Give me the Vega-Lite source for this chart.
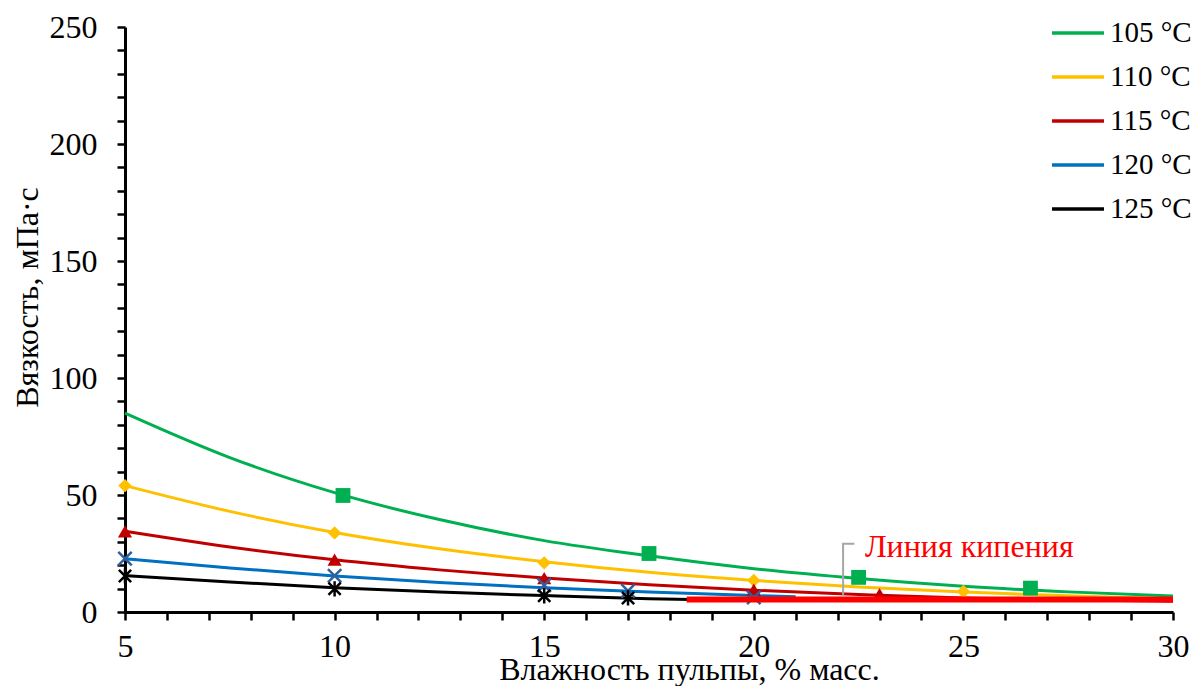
{
  "$schema": "https://vega.github.io/schema/vega-lite/v6.json",
  "width": 1048,
  "height": 585,
  "autosize": {"type": "none"},
  "padding": {"left": 125, "top": 27, "right": 23, "bottom": 74},
  "background": "white",
  "config": {
    "view": {"stroke": null}
  },
  "datasets": {
    "curves": [
      {"t": "105 °C", "x": 5, "y": 85}, {"t": "105 °C", "x": 7.5, "y": 66}, {"t": "105 °C", "x": 10, "y": 51},
      {"t": "105 °C", "x": 12.5, "y": 39.5}, {"t": "105 °C", "x": 15, "y": 30.5}, {"t": "105 °C", "x": 17.5, "y": 24},
      {"t": "105 °C", "x": 20, "y": 18.5}, {"t": "105 °C", "x": 22.5, "y": 14.3}, {"t": "105 °C", "x": 25, "y": 11},
      {"t": "105 °C", "x": 27.5, "y": 8.6}, {"t": "105 °C", "x": 30, "y": 6.8},
      {"t": "110 °C", "x": 5, "y": 54}, {"t": "110 °C", "x": 7.5, "y": 43}, {"t": "110 °C", "x": 10, "y": 34},
      {"t": "110 °C", "x": 12.5, "y": 27}, {"t": "110 °C", "x": 15, "y": 21.5}, {"t": "110 °C", "x": 17.5, "y": 17},
      {"t": "110 °C", "x": 20, "y": 13.5}, {"t": "110 °C", "x": 22.5, "y": 10.7}, {"t": "110 °C", "x": 25, "y": 8.5},
      {"t": "110 °C", "x": 27.5, "y": 6.9}, {"t": "110 °C", "x": 30, "y": 5.6},
      {"t": "115 °C", "x": 5, "y": 34.5}, {"t": "115 °C", "x": 7.5, "y": 27.8}, {"t": "115 °C", "x": 10, "y": 22.3},
      {"t": "115 °C", "x": 12.5, "y": 18}, {"t": "115 °C", "x": 15, "y": 14.5}, {"t": "115 °C", "x": 17.5, "y": 11.6},
      {"t": "115 °C", "x": 20, "y": 9.3}, {"t": "115 °C", "x": 22.5, "y": 7.5}, {"t": "115 °C", "x": 25, "y": 6},
      {"t": "115 °C", "x": 27.5, "y": 5.2}, {"t": "115 °C", "x": 30, "y": 4.6},
      {"t": "120 °C", "x": 5, "y": 22.8}, {"t": "120 °C", "x": 7.5, "y": 18.8}, {"t": "120 °C", "x": 10, "y": 15.4},
      {"t": "120 °C", "x": 12.5, "y": 12.6}, {"t": "120 °C", "x": 15, "y": 10.4}, {"t": "120 °C", "x": 17.5, "y": 8.5},
      {"t": "120 °C", "x": 20, "y": 7}, {"t": "120 °C", "x": 21, "y": 6.5},
      {"t": "125 °C", "x": 5, "y": 15.6}, {"t": "125 °C", "x": 7.5, "y": 12.8}, {"t": "125 °C", "x": 10, "y": 10.4},
      {"t": "125 °C", "x": 12.5, "y": 8.5}, {"t": "125 °C", "x": 15, "y": 7}, {"t": "125 °C", "x": 17.5, "y": 5.7},
      {"t": "125 °C", "x": 18.5, "y": 5.3}
    ],
    "points": [
      {"series": "105 °C", "x": 10.2, "y": 49.8}, {"series": "105 °C", "x": 17.5, "y": 25}, {"series": "105 °C", "x": 22.5, "y": 14.8}, {"series": "105 °C", "x": 26.6, "y": 10.2},
      {"series": "110 °C", "x": 5, "y": 54}, {"series": "110 °C", "x": 10, "y": 33.8}, {"series": "110 °C", "x": 15, "y": 21}, {"series": "110 °C", "x": 20, "y": 13.5}, {"series": "110 °C", "x": 25, "y": 8.8},
      {"series": "115 °C", "x": 5, "y": 34.5}, {"series": "115 °C", "x": 10, "y": 22.4}, {"series": "115 °C", "x": 15, "y": 14.5}, {"series": "115 °C", "x": 20, "y": 9.6}, {"series": "115 °C", "x": 23, "y": 7.6},
      {"series": "120 °C", "x": 5, "y": 22.8}, {"series": "120 °C", "x": 10, "y": 15.5}, {"series": "120 °C", "x": 15, "y": 11.5}, {"series": "120 °C", "x": 17, "y": 9}, {"series": "120 °C", "x": 20, "y": 6.2},
      {"series": "125 °C", "x": 5, "y": 15.4}, {"series": "125 °C", "x": 10, "y": 9.9}, {"series": "125 °C", "x": 15, "y": 6.9}, {"series": "125 °C", "x": 17, "y": 6}
    ],
    "boil": [
      {"x": 18.4, "y": 5.3}, {"x": 30, "y": 5.3}
    ],
    "leader": [
      {"o": 1, "x": 22.4, "y": 29.2}, {"o": 2, "x": 22.13, "y": 29.2}, {"o": 3, "x": 22.13, "y": 6.8}
    ],
    "note": [
      {"x": 22.65, "y": 27.6, "label": "Линия кипения"}
    ]
  },
  "encoding": {
    "x": {
      "field": "x", "type": "quantitative",
      "scale": {"domain": [5, 30], "nice": false, "zero": false},
      "axis": {
        "values": [5, 6, 7, 8, 9, 10, 11, 12, 13, 14, 15, 16, 17, 18, 19, 20, 21, 22, 23, 24, 25, 26, 27, 28, 29, 30],
        "labelExpr": "datum.value % 5 === 0 ? datum.label : ''",
        "grid": false,
        "domainColor": "black",
        "domainWidth": 3,
        "tickColor": "black",
        "tickWidth": 2.5,
        "tickSize": 8,
        "labelFont": "Liberation Serif",
        "labelFontSize": 32,
        "labelColor": "black",
        "labelPadding": 11,
        "labelFlush": false,
        "labelOverlap": false,
        "title": "Влажность пульпы, % масс.",
        "titleFont": "Liberation Serif",
        "titleFontSize": 32,
        "titleFontWeight": "normal",
        "titleColor": "black",
        "titleX": 564,
        "titleY": 57,
        "titleBaseline": "middle"
      }
    },
    "y": {
      "field": "y", "type": "quantitative",
      "scale": {"domain": [0, 250], "nice": false},
      "axis": {
        "values": [0, 10, 20, 30, 40, 50, 60, 70, 80, 90, 100, 110, 120, 130, 140, 150, 160, 170, 180, 190, 200, 210, 220, 230, 240, 250],
        "labelExpr": "datum.value % 50 === 0 ? datum.label : ''",
        "grid": false,
        "domainColor": "black",
        "domainWidth": 3,
        "tickColor": "black",
        "tickWidth": 2.5,
        "tickSize": 8,
        "labelFont": "Liberation Serif",
        "labelFontSize": 32,
        "labelColor": "black",
        "labelPadding": 20,
        "labelOverlap": false,
        "labelFlush": false,
        "title": "Вязкость, мПа·с",
        "titleFont": "Liberation Serif",
        "titleFontSize": 32,
        "titleFontWeight": "normal",
        "titleColor": "black",
        "titleX": -98,
        "titleY": 270,
        "titleAngle": -90,
        "titleBaseline": "middle"
      }
    }
  },
  "layer": [
    {
      "data": {"name": "curves"},
      "mark": {"type": "line", "strokeWidth": 3, "interpolate": "monotone"},
      "encoding": {
        "color": {
          "field": "t", "type": "nominal",
          "scale": {
            "domain": ["105 °C", "110 °C", "115 °C", "120 °C", "125 °C"],
            "range": ["#00B050", "#FFC000", "#C00000", "#0070C0", "#000000"]
          },
          "legend": {
            "title": null,
            "orient": "none",
            "legendX": 925,
            "legendY": -22,
            "symbolType": "stroke",
            "symbolStrokeWidth": 3.5,
            "symbolSize": 2700,
            "rowPadding": 1,
            "labelFont": "Liberation Serif",
            "labelFontSize": 29,
            "labelColor": "black",
            "labelOffset": 4,
            "labelLimit": 300
          }
        }
      }
    },
    {
      "data": {"name": "points"},
      "transform": [{"filter": {"field": "series", "equal": "105 °C"}}],
      "mark": {"type": "point", "shape": "square", "filled": true, "color": "#00B050", "size": 220, "opacity": 1}
    },
    {
      "data": {"name": "points"},
      "transform": [{"filter": {"field": "series", "equal": "110 °C"}}],
      "mark": {"type": "point", "shape": "diamond", "filled": true, "color": "#FFC000", "size": 180, "opacity": 1}
    },
    {
      "data": {"name": "points"},
      "transform": [{"filter": {"field": "series", "equal": "115 °C"}}],
      "mark": {"type": "point", "shape": "triangle-up", "filled": true, "color": "#C00000", "size": 200, "opacity": 1}
    },
    {
      "data": {"name": "points"},
      "transform": [{"filter": {"field": "series", "equal": "120 °C"}}],
      "mark": {"type": "point", "shape": "M-1,-1L1,1M1,-1L-1,1", "filled": false, "color": "#2F5F9E", "strokeWidth": 2.5, "size": 180, "opacity": 1}
    },
    {
      "data": {"name": "points"},
      "transform": [{"filter": {"field": "series", "equal": "125 °C"}}],
      "mark": {"type": "point", "shape": "M-1,-1L1,1M1,-1L-1,1M0,-1.25L0,1.25", "filled": false, "color": "#000000", "strokeWidth": 2.5, "size": 150, "opacity": 1}
    },
    {
      "data": {"name": "boil"},
      "mark": {"type": "line", "color": "#FF0000", "strokeWidth": 6, "strokeCap": "butt"},
      "encoding": {}
    },
    {
      "data": {"name": "leader"},
      "mark": {"type": "line", "color": "#A6A6A6", "strokeWidth": 2},
      "encoding": {
        "order": {"field": "o", "type": "quantitative"}
      }
    },
    {
      "data": {"name": "note"},
      "mark": {"type": "text", "align": "left", "baseline": "middle", "font": "Liberation Serif", "fontSize": 32, "color": "#FF0000"},
      "encoding": {
        "text": {"field": "label"}
      }
    }
  ]
}
